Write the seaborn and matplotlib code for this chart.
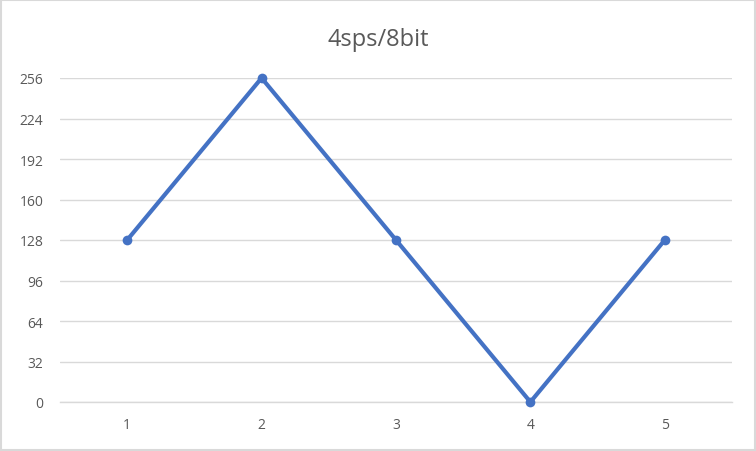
import matplotlib
matplotlib.use("Agg")
import matplotlib.pyplot as plt
import seaborn as sns
import pandas as pd
from matplotlib.patches import Rectangle

categories = [1, 2, 3, 4, 5]
values = [128, 256, 128, 0, 128]
yticks = [0, 32, 64, 96, 128, 160, 192, 224, 256]
title = "4sps/8bit"

sns.set_theme(style="white")
plt.rcParams['font.family'] = ['Open Sans', 'DejaVu Sans']

df = pd.DataFrame({"x": categories, "y": values})

fig = plt.figure(figsize=(7.56, 4.52), dpi=100)
ax = fig.add_axes([60/756, 1-403/452, (732-60)/756, (403-79)/452])

sns.lineplot(data=df, x="x", y="y", ax=ax, color="#4472C4", linewidth=3.0,
             marker="o", markersize=7, markeredgewidth=0, clip_on=False, zorder=3)

ax.set_xlim(0.5, 5.5)
ax.set_ylim(0, 256)
ax.set_yticks(yticks)
ax.set_xticks(categories)
ax.set_xticklabels([str(c) for c in categories])
ax.grid(axis="y", color="#D9D9D9", linewidth=1.0)
ax.grid(axis="x", visible=False)
ax.set_axisbelow(True)
for s in ["top", "right", "left"]:
    ax.spines[s].set_visible(False)
ax.spines["bottom"].set_color("#D9D9D9")
ax.spines["bottom"].set_linewidth(1.0)
ax.tick_params(axis="both", length=0, labelsize=10, colors="#595959")
ax.tick_params(axis="y", pad=12)
ax.tick_params(axis="x", pad=11)
ax.set_xlabel("")
ax.set_ylabel("")

fig.text(0.5, 1-40/452, title, ha="center", va="center", fontsize=17, color="#595959")

fig.patches.append(Rectangle((1/756, 1/452), 1-2/756, 1-2/452, transform=fig.transFigure,
                             fill=False, edgecolor="#D9D9D9", linewidth=1.5))

fig.savefig("out.png", dpi=100)
